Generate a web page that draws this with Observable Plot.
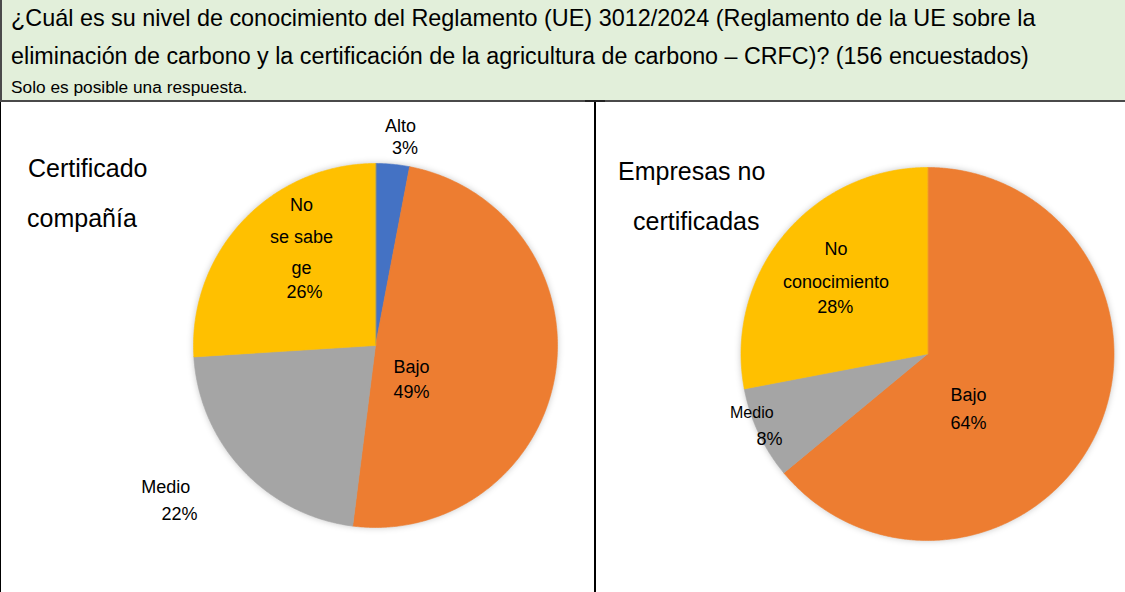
<!DOCTYPE html>
<html><head><meta charset="utf-8">
<script src="https://cdn.jsdelivr.net/npm/d3@7"></script>
<script src="https://cdn.jsdelivr.net/npm/@observablehq/plot@0.6"></script>
<style>
html,body{margin:0;padding:0}
body{width:1125px;height:592px;position:relative;overflow:hidden;background:#fff;font-family:"Liberation Sans",Arial,sans-serif;color:#000}
#header{position:absolute;left:0;top:0;width:1125px;height:102px;background:#e2efda;border-left:2px solid #4a4a4a;border-bottom:2px solid #4a4a4a;box-sizing:border-box}
.hl{position:absolute;left:9px;white-space:nowrap;line-height:1;transform-origin:0 0}
.ttl{position:absolute;white-space:nowrap;font-size:25px;line-height:1}
#left{position:absolute;left:0;top:102px;width:595px;height:490px;border-left:1px solid #000;box-sizing:border-box}
#right{position:absolute;left:596px;top:102px;width:529px;height:490px}
#div{position:absolute;left:594px;top:100px;width:2px;height:492px;background:#000}
#tee{position:absolute;left:585px;top:100px;width:20px;height:2px;background:#222}
svg g[aria-label="line"]{filter:drop-shadow(0 0 3px rgba(0,0,0,0.22))}
</style>
</head><body>
<div id="header">
  <div class="hl" id="h1" style="top:7px;font-size:23.4px"></div>
  <div class="hl" id="h2" style="top:45px;font-size:23.3px"></div>
  <div class="hl" id="h3" style="top:78.5px;font-size:17.3px"></div>
</div>
<div id="left"></div>
<div id="right"></div>
<div id="div"></div>
<div id="tee"></div>
<div class="ttl" style="left:28px;top:156px">Certificado</div>
<div class="ttl" style="left:27px;top:206px">compañía</div>
<div class="ttl" style="left:618px;top:159px">Empresas no</div>
<div class="ttl" style="left:633px;top:209px">certificadas</div>
<script>
// ---- data ----
const titleLines = [
  "¿Cuál es su nivel de conocimiento del Reglamento (UE) 3012/2024 (Reglamento de la UE sobre la",
  "eliminación de carbono y la certificación de la agricultura de carbono – CRFC)? (156 encuestados)",
  "Solo es posible una respuesta."
];
const leftCategories = ["Alto", "Bajo", "Medio", "No se sabe ge"];
const leftValues = [3, 49, 22, 26];
const leftLabelNames = ["Alto", "Bajo", "Medio", "No\nse sabe\nge"];

const rightCategories = ["Bajo", "Medio", "No conocimiento"];
const rightValues = [64, 8, 28];
const rightLabelNames = ["Bajo", "Medio", "No\nconocimiento"];

const colorDomain = ["Alto", "Bajo", "Medio", "No se sabe ge", "No conocimiento"];
const colorRange = ["#4472c4", "#ed7d31", "#a5a5a5", "#ffc000", "#ffc000"];

// ---- layout (label placement in pie-radius units) ----
const leftLabelLayout = [
  {nx: 0.137, ny: 1.228, px: 0.162, py: 1.084, size: 18},
  {nx: 0.198, ny: -0.094, px: 0.198, py: -0.258, size: 18},
  {nx: -1.152, ny: -0.757, px: -1.077, py: -0.929, size: 18},
  {nx: -0.407, ny: 0.621, px: -0.390, py: 0.291, size: 18}
];
const rightLabelLayout = [
  {nx: 0.220, ny: -0.197, px: 0.220, py: -0.369, size: 18},
  {nx: -0.942, ny: -0.293, px: -0.847, py: -0.458, size: 16},
  {nx: -0.491, ny: 0.499, px: -0.495, py: 0.249, size: 18}
];

document.getElementById("h1").textContent = titleLines[0];
document.getElementById("h2").textContent = titleLines[1];
document.getElementById("h3").textContent = titleLines[2];

function slicePoints(cats, vals) {
  const arcs = d3.pie().sort(null).value(d => d)(vals);
  const pts = [];
  arcs.forEach((s, i) => {
    const n = Math.max(2, Math.ceil((s.endAngle - s.startAngle) / (Math.PI / 360)));
    pts.push({cat: cats[i], x: 0, y: 0});
    for (let k = 0; k <= n; k++) {
      const a = s.startAngle + (s.endAngle - s.startAngle) * k / n;
      pts.push({cat: cats[i], x: Math.sin(a), y: Math.cos(a)});
    }
  });
  return pts;
}

function pieChart({cats, vals, names, layout, width, height, cx, cy, r, lineHeight}) {
  const labels = cats.map((c, i) => ({
    name: names[i], pct: vals[i] + "%", ...layout[i]
  }));
  return Plot.plot({
    width, height, margin: 0,
    style: {background: "transparent", fontFamily: "'Liberation Sans', Arial, sans-serif", overflow: "visible"},
    x: {domain: [-1, 1], range: [cx - r, cx + r], axis: null},
    y: {domain: [-1, 1], range: [cy + r, cy - r], axis: null},
    color: {domain: colorDomain, range: colorRange},
    marks: [
      Plot.line(slicePoints(cats, vals), {x: "x", y: "y", z: "cat", fill: "cat", stroke: "cat", strokeWidth: 0.6, curve: "linear-closed"}),
      Plot.text(labels, {x: "nx", y: "ny", text: "name", fontSize: d => d.size, lineHeight, fill: "#000"}),
      Plot.text(labels, {x: "px", y: "py", text: "pct", fontSize: 18, fill: "#000"})
    ]
  });
}

document.getElementById("left").append(pieChart({
  cats: leftCategories, vals: leftValues, names: leftLabelNames, layout: leftLabelLayout,
  width: 594, height: 490, cx: 374, cy: 243, r: 182, lineHeight: 1.75
}));
document.getElementById("right").append(pieChart({
  cats: rightCategories, vals: rightValues, names: rightLabelNames, layout: rightLabelLayout,
  width: 529, height: 490, cx: 331, cy: 251.5, r: 186.5, lineHeight: 1.86
}));
</script>
</body></html>
